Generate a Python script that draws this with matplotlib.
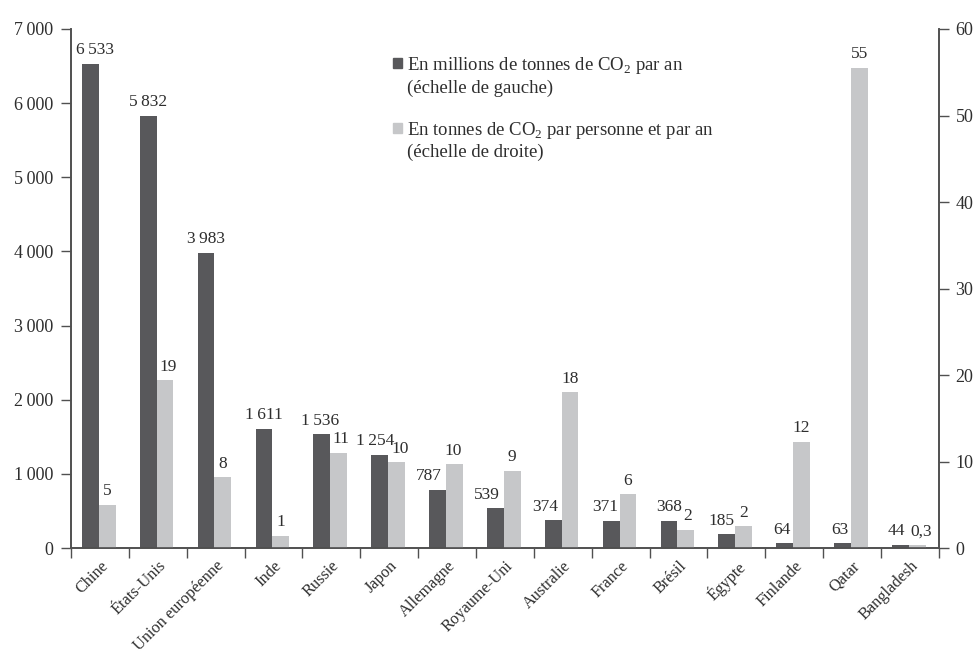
import matplotlib
matplotlib.use("Agg")
import matplotlib.pyplot as plt
from matplotlib.patches import Rectangle
import numpy as np

plt.rcParams["font.family"] = ["Liberation Serif", "DejaVu Serif"]
plt.rcParams["mathtext.fontset"] = "custom"
plt.rcParams["mathtext.rm"] = "Liberation Serif"

countries = ["Chine", "États-Unis", "Union européenne", "Inde", "Russie", "Japon",
             "Allemagne", "Royaume-Uni", "Australie", "France", "Brésil", "Égypte",
             "Finlande", "Qatar", "Bangladesh"]
total_mt = [6533, 5832, 3983, 1611, 1536, 1254, 787, 539, 374, 371, 368, 185, 64, 63, 44]
per_capita = [5.0, 19.4, 8.2, 1.4, 11.0, 9.9, 9.7, 8.9, 18.0, 6.2, 2.1, 2.5, 12.3, 55.5, 0.3]
per_capita_labels = ["5", "19", "8", "1", "11", "10", "10", "9", "18", "6", "2", "2",
                     "12", "55", "0,3"]
left_ticks = [0, 1000, 2000, 3000, 4000, 5000, 6000, 7000]
right_ticks = [0, 10, 20, 30, 40, 50, 60]

# small manual nudges of the value labels (points), as in the original layout
dark_dx = [3, 0, 0, 0, -1, -3, -6, -6, -6, -4, 0, -4, -2, -2, -3]
light_dx = [0, 2, 0, 0, 2, 3, -1, 0, 0, 0, 1, 0, 0, 0, 3]

DARK = "#58585b"
LIGHT = "#c6c7c9"
TXT = "#2e2e2e"
AX = "#505050"


def fmt(v):
    return f"{v:,}".replace(",", "\u2009")


fig = plt.figure(figsize=(9.76, 6.59), dpi=100)
ax = fig.add_axes([0.0727, 0.1684, 0.8893, 0.7876])
ax2 = ax.twinx()

x = np.arange(len(countries))
w = 0.29
b1 = ax.bar(x - 0.165, total_mt, w, color=DARK, zorder=2)
b2 = ax2.bar(x + 0.125, per_capita, w, color=LIGHT, zorder=2)

for rect, v, dx in zip(b1, total_mt, dark_dx):
    ax.annotate(fmt(v), (rect.get_x() + rect.get_width() / 2, rect.get_height()),
                xytext=(dx, 4), textcoords="offset points", ha="center", va="bottom",
                fontsize=12.5, color=TXT)
for rect, s, dx in zip(b2, per_capita_labels, light_dx):
    ax2.annotate(s, (rect.get_x() + rect.get_width() / 2, rect.get_height()),
                 xytext=(dx, 4), textcoords="offset points", ha="center", va="bottom",
                 fontsize=12.5, color=TXT)

ax.set_xlim(-0.5, len(countries) - 0.5)
ax.set_ylim(0, 7000)
ax2.set_ylim(0, 60)

ax.set_yticks(left_ticks)
ax.set_yticklabels([fmt(t) for t in left_ticks])
ax2.set_yticks(right_ticks)

ax.set_xticks(np.arange(-0.5, len(countries)), minor=False)
ax.set_xticklabels([])
ax.set_xticks(x, minor=True)
ax.set_xticklabels(countries, minor=True, rotation=45, ha="right",
                   rotation_mode="anchor", fontsize=11.8, color=TXT)
ax.tick_params(axis="x", which="minor", length=0, pad=7)
ax.tick_params(axis="x", which="major", length=7, width=1, color=AX, direction="out")
ax.tick_params(axis="y", length=7, width=1, color=AX, labelsize=13, labelcolor=TXT, pad=6)
ax2.tick_params(axis="y", length=7, width=1, color=AX, labelsize=13, labelcolor=TXT, pad=5)

for a in (ax, ax2):
    a.spines["top"].set_visible(False)
    for s in ("left", "right", "bottom"):
        a.spines[s].set_color(AX)
        a.spines[s].set_linewidth(1.2)

# legend drawn by hand so the swatch sits on the first line of each entry
leg = [(DARK, "En millions de tonnes de CO$_\\mathrm{2}$ par an\n(échelle de gauche)", 0.935),
       (LIGHT, "En tonnes de CO$_\\mathrm{2}$ par personne et par an\n(échelle de droite)", 0.81)]
for col, label, yy in leg:
    ax.add_patch(Rectangle((0.3705, yy - 0.0095), 0.011, 0.019, transform=ax.transAxes,
                           color=col, clip_on=False))
    ax.text(0.387, yy + 0.015, label, transform=ax.transAxes, ha="left", va="top",
            fontsize=13.5, color=TXT, linespacing=1.25)

fig.savefig("out.png", dpi=100)
